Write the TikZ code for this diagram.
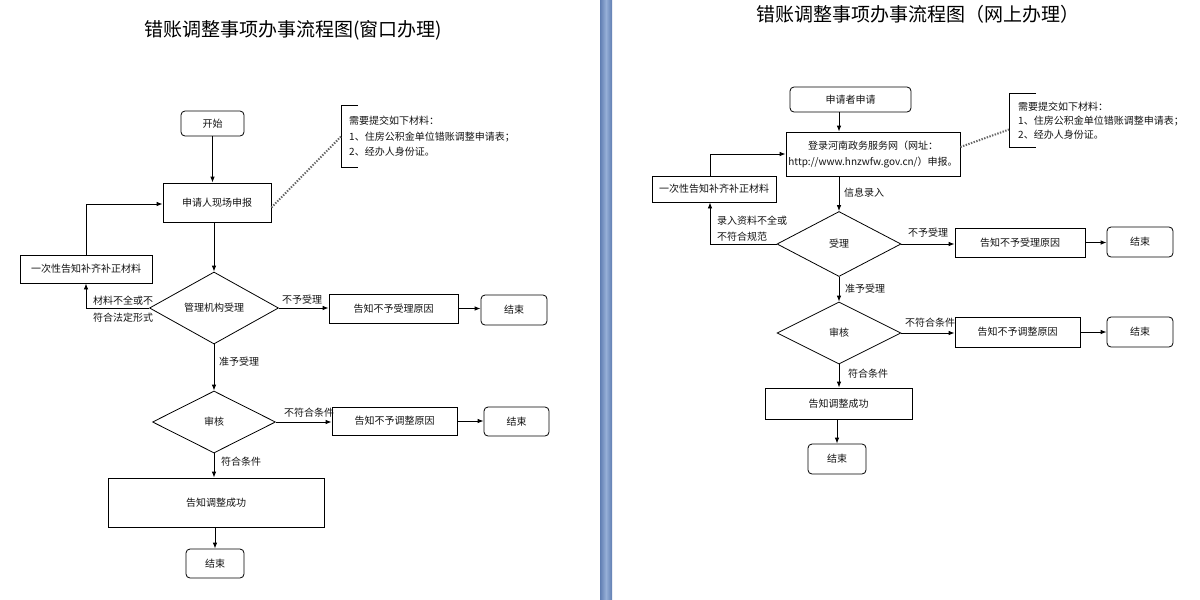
\documentclass[tikz,border=0pt]{standalone}
\usepackage{fontspec}
\newfontfamily\cjk{Noto Sans CJK SC}
\usetikzlibrary{shapes.geometric,arrows.meta,calc}
\definecolor{barA}{RGB}{96,126,178}
\definecolor{barB}{RGB}{150,175,215}
\definecolor{ink}{RGB}{20,20,20}
\begin{document}
\begin{tikzpicture}[x=1pt,y=-1pt,
  every node/.style={font=\cjk\fontsize{10}{12}\selectfont, text=ink, inner sep=0pt},
  box/.style={draw=black, line width=0.8pt},
  rbox/.style={box, rounded corners=4pt},
  dia/.style={draw=black, diamond, line width=0.8pt, inner sep=0pt},
  flow/.style={-{Latex[length=6pt,width=4.5pt]}, line width=0.8pt},
  line/.style={line width=0.8pt},
  dotline/.style={draw=black!60, line width=2pt, dash pattern=on 1.4pt off 1.4pt},
  notebox/.style={align=left, inner xsep=0pt, font=\cjk\fontsize{10}{15.5}\selectfont},
  ttl/.style={font=\cjk\fontsize{19}{22}\selectfont, text=black}]
\useasboundingbox[fill=white] (0,0) rectangle (1200,600);
% divider bar
\shade[left color=barA, right color=barA, middle color=barB] (600,0) rectangle (612,600);

% ================= LEFT =================
\node[ttl] (t1) at (293,30) {错账调整事项办事流程图(窗口办理)};
\node[rbox, minimum width=63, minimum height=25] (start) at (212.5,123.5) {开始};
\node[box, minimum width=108, minimum height=39] (apply) at (217,202.5) {申请人现场申报};
\node[box, minimum width=132, minimum height=28] (fixL) at (86,269) {一次性告知补齐补正材料};
\node[dia, minimum width=129, minimum height=72] (d1) at (214,308) {管理机构受理};
\node[box, minimum width=129, minimum height=29] (reason1) at (393.5,308.5) {告知不予受理原因};
\node[rbox, minimum width=66, minimum height=30] (end1) at (514,310) {结束};
\node[dia, minimum width=123, minimum height=62] (d2) at (214,422) {审核};
\node[box, minimum width=125, minimum height=28] (reason2) at (394.5,421) {告知不予调整原因};
\node[rbox, minimum width=65, minimum height=29] (end2) at (516.5,421.5) {结束};
\node[box, minimum width=216, minimum height=49] (success) at (216,502.5) {告知调整成功};
\node[rbox, minimum width=58, minimum height=29] (end3) at (215,563.5) {结束};
% note
\node[notebox, anchor=west, minimum height=61, text width=190, inner xsep=0pt] (note1) at (341,136.5)
  {\hspace*{8pt}需要提交如下材料：\\\hspace*{8pt}1、住房公积金单位错账调整申请表；\\\hspace*{8pt}2、经办人身份证。};
\draw[line] ([xshift=17pt]note1.north west) -- (note1.north west) -- (note1.south west) -- ([xshift=17pt]note1.south west);
\draw[dotline] ([yshift=-5pt]apply.east) -- (note1.west);

% connectors
\draw[flow] (start.south) -- (start.south |- apply.north);
\draw[flow] (apply.south -| d1.north) -- (d1.north);
\draw[flow] (d1.west) -| (fixL.south);
\draw[flow] (fixL.north) |- ([yshift=-1.5pt]apply.west);
\draw[flow] (d1.east) -- (d1.east -| reason1.west);
\draw[flow] (reason1.east) -- (reason1.east -| end1.west);
\draw[flow] (d1.south) -- (d2.north);
\draw[flow] (d2.east) -- (d2.east -| reason2.west);
\draw[flow] (reason2.east) -- (reason2.east -| end2.west);
\draw[flow] (d2.south) -- (d2.south |- success.north);
\draw[flow] (success.south -| end3.north) -- (end3.north);
% labels
\node[align=left, anchor=west, font=\cjk\fontsize{10}{17}\selectfont] (lb1) at (93,309.5) {材料不全或不\\符合法定形式};
\node (lb2) at (302,300) {不予受理};
\node[anchor=west] (lb3) at (219,362) {准予受理};
\node (lb4) at (309,413) {不符合条件};
\node[anchor=west] (lb5) at (221,462) {符合条件};

% ================= RIGHT =================
\node[ttl] (t2) at (918,14) {错账调整事项办事流程图（网上办理）};
\node[rbox, minimum width=121, minimum height=25] (rstart) at (850.5,99.5) {申请者申请};
\node[box, minimum width=174, minimum height=44, align=center, font=\cjk\fontsize{10}{16}\selectfont] (rapply) at (873,154)
  {登录河南政务服务网（网址：\\http://www.hnzwfw.gov.cn/）申报。};
\node[box, minimum width=124, minimum height=26] (rfix) at (714,189) {一次性告知补齐补正材料};
\node[dia, minimum width=124, minimum height=65] (rd1) at (839,244) {受理};
\node[box, minimum width=130, minimum height=29] (rreason1) at (1020,242.5) {告知不予受理原因};
\node[rbox, minimum width=66, minimum height=30] (rend1) at (1140,242) {结束};
\node[dia, minimum width=124, minimum height=62] (rd2) at (839,333) {审核};
\node[box, minimum width=125, minimum height=30] (rreason2) at (1017.5,332) {告知不予调整原因};
\node[rbox, minimum width=66, minimum height=30] (rend2) at (1140,332) {结束};
\node[box, minimum width=147, minimum height=31] (rsuccess) at (838.5,403.5) {告知调整成功};
\node[rbox, minimum width=58, minimum height=30] (rend3) at (837,459) {结束};
% note
\node[notebox, anchor=west, minimum height=53, text width=190, font=\cjk\fontsize{10}{14}\selectfont] (note2) at (1009,120.5)
  {\hspace*{9pt}需要提交如下材料：\\\hspace*{9pt}1、住房公积金单位错账调整申请表；\\\hspace*{9pt}2、经办人身份证。};
\draw[line] ([xshift=27pt]note2.north west) -- (note2.north west) -- (note2.south west) -- ([xshift=27pt]note2.south west);
\draw[dotline] ([yshift=7pt]rapply.east) -- ([yshift=-9pt]note2.west);

% connectors
\draw[flow] (rd1.north |- rstart.south) -- (rd1.north |- rapply.north);
\draw[flow] (rd1.north |- rapply.south) -- (rd1.north);
\draw[flow] (rd1.west) -| ([xshift=-4pt]rfix.south);
\draw[flow] ([xshift=-4pt]rfix.north) |- (rapply.west);
\draw[flow] (rd1.east) -- (rd1.east -| rreason1.west);
\draw[flow] (rreason1.east) -- (rreason1.east -| rend1.west);
\draw[flow] (rd1.south) -- (rd2.north);
\draw[flow] (rd2.east) -- (rd2.east -| rreason2.west);
\draw[flow] (rreason2.east) -- (rreason2.east -| rend2.west);
\draw[flow] (rd2.south) -- (rd2.south |- rsuccess.north);
\draw[flow] (rend3.north |- rsuccess.south) -- (rend3.north);
% labels
\node[align=left, anchor=west, font=\cjk\fontsize{10}{16}\selectfont] (rlb1) at (717,229) {录入资料不全或\\不符合规范};
\node (rlb2) at (928,233) {不予受理};
\node[anchor=west] (rlb3) at (845,289) {准予受理};
\node (rlb4) at (930,323) {不符合条件};
\node[anchor=west] (rlb5) at (848,374) {符合条件};
\node[anchor=west] (rlb6) at (844,193) {信息录入};
\end{tikzpicture}
\end{document}
